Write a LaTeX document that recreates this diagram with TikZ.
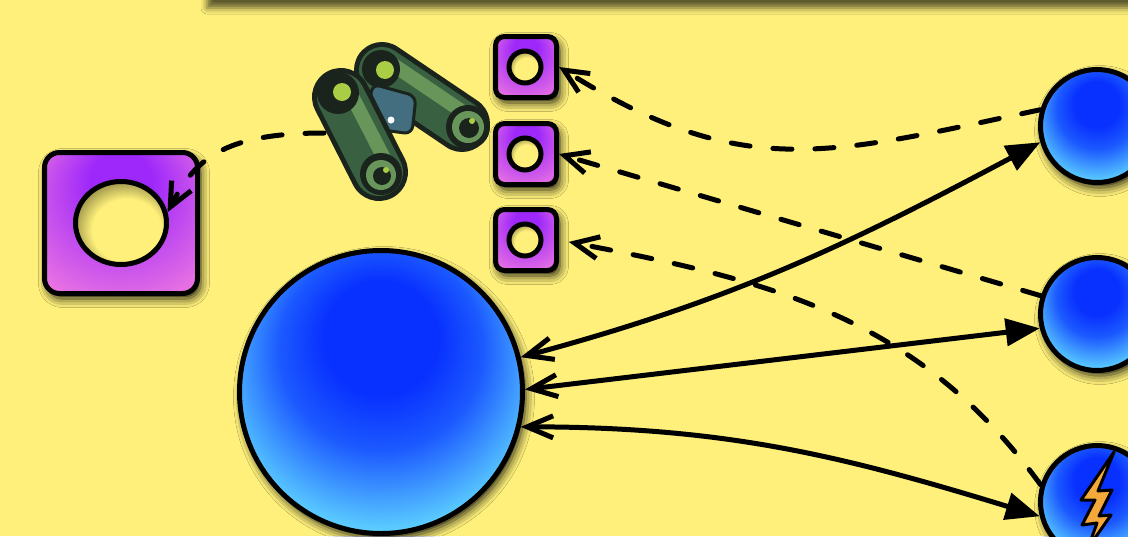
\documentclass[tikz,border=0pt]{standalone}
\usepackage{xcolor}
\usepackage{tikz}
\usetikzlibrary{arrows.meta}
\usetikzlibrary{shapes}
\usetikzlibrary{shadows.blur}
\usetikzlibrary{positioning}

\definecolor{paper}{RGB}{254,240,122}
\definecolor{plumtop}{RGB}{158,40,250}
\definecolor{plumlow}{RGB}{244,126,222}
\definecolor{bluetop}{RGB}{8,48,255}
\definecolor{bluemid}{RGB}{28,90,255}
\definecolor{bluelow}{RGB}{95,212,255}
\definecolor{bolt}{RGB}{246,169,59}
\definecolor{binodark}{RGB}{26,36,28}
\definecolor{binobody}{RGB}{58,96,66}
\definecolor{binolite}{RGB}{104,150,90}
\definecolor{binolens}{RGB}{170,205,70}
\definecolor{binoblue}{RGB}{66,110,128}

% shadings are fitted so that the path edge sits at 25bp
\pgfdeclareradialshading{ballfill}{\pgfpoint{0bp}{12bp}}{color(0bp)=(bluetop); color(10bp)=(bluetop); color(18bp)=(bluemid); color(30bp)=(bluelow); color(50bp)=(bluelow)}
\pgfdeclareradialshading{boxfill}{\pgfpoint{0bp}{19bp}}{color(0bp)=(plumtop); color(10bp)=(plumtop); color(40bp)=(plumlow); color(50bp)=(plumlow)}
\pgfdeclareradialshading{holefill}{\pgfpoint{5bp}{-7bp}}{color(0bp)=(paper); color(19bp)=(paper); color(30bp)=(paper!55!black); color(50bp)=(paper!55!black)}

\begin{document}
\begin{tikzpicture}[x=1pt, y=1pt,
	softshadow/.style={blur shadow={shadow xshift=3pt, shadow yshift=-5pt,
				shadow blur radius=9pt, shadow opacity=90}},
	ball/.style={circle, draw, line width=5pt, shading=ballfill,
				inner sep=0pt, softshadow},
	dock/.style={rectangle, rounded corners=9pt, draw, line width=5pt,
				shading=boxfill, inner sep=0pt, softshadow},
	hole/.style={ellipse, draw, line width=5pt, shading=holefill, inner sep=0pt},
	link/.style={line width=5pt, fill opacity=1,
				arrows={Straight Barb[length=26pt,width=22pt]-Triangle[length=34pt,width=27pt,fill=black]}},
	watch/.style={line width=5pt, line cap=round, dash pattern=on 19pt off 23pt,
				arrows={-Straight Barb[length=24pt,width=22pt]}},
]
\useasboundingbox (0,0) rectangle (1128,-536);
\fill [paper] (0,0) rectangle (1128,-536);
\path [blur shadow={shadow xshift=0pt, shadow yshift=-8pt,
		shadow blur radius=6pt, shadow opacity=62}] (207,60) rectangle (1240,0);
%
\node [ball] (M) at (381,-392) [minimum size=283] {};
\node [ball] (A) at (1097,-126) [minimum size=113] {};
\node [ball] (B) at (1097,-314) [minimum size=113] {};
\node [ball] (C) at (1097,-502) [minimum size=113] {};
\filldraw [bolt, draw=black, line width=3pt, line join=round]
	(1114,-452) -- (1081,-500) -- (1095,-500) -- (1082,-525) -- (1097,-523)
	-- (1088,-548) -- (1111,-515) -- (1099,-516) -- (1112,-490) -- (1098,-491) -- cycle;
%
\node [dock] (K) at (121,-223) [minimum width=153, minimum height=141,
	rounded corners=15pt] {};
\node [hole] (Kh) at (121,-223) [minimum width=91, minimum height=83] {};
\foreach \i/\y in {1/-67, 2/-154, 3/-240} {
	\node [dock] (P\i) at (526,\y) [minimum size=61] {};
	\node [hole] (Q\i) at (525,\y) [minimum size=32] {};
}
%
% binoculars
\begin{scope}[line cap=round]
\draw [binodark, line width=56pt] (382,-70) -- (462,-124);
\draw [binobody, line width=46pt] (382,-70) -- (462,-124);
\draw [binolite, line width=14pt] (392,-64) -- (460,-110);
\fill [binodark] (381,-69) circle (19);
\fill [binolens] (385,-70) circle (9);
\fill [binodark] (468,-127) circle (22);
\fill [binolite] (468,-127) circle (16);
\fill [binodark] (469,-128) circle (10);
\fill [binolens] (472,-121) circle (3);
\filldraw [binoblue, draw=binodark, line width=3pt, rounded corners=8pt]
	(372,-84) -- (416,-96) -- (412,-134) -- (368,-128) -- cycle;
\fill [white] (391,-120) circle (3.5);
\draw [binodark, line width=58pt] (341,-97) -- (379,-172);
\draw [binobody, line width=48pt] (341,-97) -- (379,-172);
\draw [binolite, line width=14pt] (353,-98) -- (388,-166);
\fill [binodark] (338,-93) circle (21);
\fill [binolens] (342,-92) circle (9);
\fill [binodark] (381,-174) circle (21);
\fill [binolite] (381,-175) circle (15);
\fill [binodark] (382,-176) circle (9);
\fill [binolens] (386,-170) circle (3);
\end{scope}
\coordinate (E) at (324,-133);
%
\draw [link] (M.14) to[out=15, in=208] (A.196);
\draw [link] (M.1) -- (B.194);
\draw [link] (M.346) to[out=0, in=163] (C.194);
%
\draw [watch] (A.164) to[out=192, in=-32, looseness=1.15] (P1.east);
\draw [watch] (B.162) -- (P2.east);
\draw [watch, shorten >=10pt] (C.163) to[out=126, in=-11] (P3.east);
\draw [watch] (E) .. controls +(-102,0) and +(27,52) .. (Kh.13);
\end{tikzpicture}
\end{document}
